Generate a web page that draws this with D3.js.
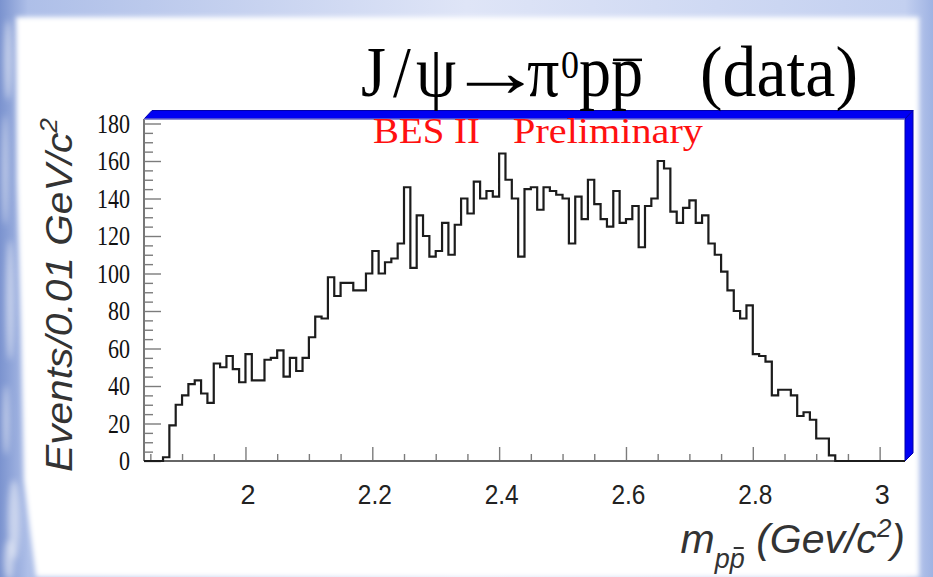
<!DOCTYPE html>
<html>
<head>
<meta charset="utf-8">
<script src="https://cdn.jsdelivr.net/npm/d3@7"></script>
<style>
  html, body { margin: 0; padding: 0; background: #fff; overflow: hidden; }
  svg { display: block; }
</style>
</head>
<body>
<svg id="chart" width="933" height="577"></svg>
<script>
// p-pbar invariant mass in J/psi -> pi0 p pbar, events per 0.01 GeV/c^2 bin
const firstBinLow = 1.87;
const binWidth = 0.01;
const counts = [
  2, 19, 30, 35, 41, 43, 36, 31, 52, 50,
  56, 49, 42, 57, 43, 43, 54, 55, 59, 45,
  55, 48, 55, 66, 77, 76, 98, 88, 95, 95,
  91, 91, 100, 112, 100, 106, 108, 116, 146, 103,
  131, 120, 109, 112, 127, 110, 126, 140, 132, 149,
  140, 144, 141, 164, 150, 140, 109, 145, 146, 134,
  146, 144, 142, 140, 116, 141, 129, 150, 137, 129,
  125, 144, 127, 129, 136, 114, 136, 140, 160, 156,
  133, 127, 135, 139, 127, 131, 116, 110, 101, 91,
  80, 76, 83, 57, 56, 53, 35, 38, 38, 35,
  24, 26, 22, 12, 12, 3
];
const xDomain = [1.84, 3.04];
const yDomain = [0, 182.4];
const xTicks = [2, 2.2, 2.4, 2.6, 2.8, 3];
const xTickLabels = ["2", "2.2", "2.4", "2.6", "2.8", "3"];
const yTicks = [0, 20, 40, 60, 80, 100, 120, 140, 160, 180];
const yTickLabels = ["0", "20", "40", "60", "80", "100", "120", "140", "160", "180"];

const W = 933, H = 577;
const frame = { left: 144, right: 905, top: 119, bottom: 461 };
const serif = "'Liberation Serif', 'Times New Roman', serif";
const sans = "'Liberation Sans', Arial, Helvetica, sans-serif";

const svg = d3.select("#chart");
const defs = svg.append("defs");

// ---------- slide background ----------
const bgGrad = defs.append("linearGradient").attr("id", "bgGrad")
  .attr("x1", 0).attr("y1", 0).attr("x2", 1).attr("y2", 0);
bgGrad.append("stop").attr("offset", "0%").attr("stop-color", "#7b93cf");
bgGrad.append("stop").attr("offset", "3%").attr("stop-color", "#aebfe8");
bgGrad.append("stop").attr("offset", "50%").attr("stop-color", "#dfe5f7");
bgGrad.append("stop").attr("offset", "97%").attr("stop-color", "#c3d0f0");
bgGrad.append("stop").attr("offset", "100%").attr("stop-color", "#9fb3e3");
svg.append("rect").attr("width", W).attr("height", H).attr("fill", "url(#bgGrad)");

const soft = defs.append("filter").attr("id", "soft").attr("x", "-10%").attr("y", "-10%")
  .attr("width", "120%").attr("height", "120%");
soft.append("feGaussianBlur").attr("stdDeviation", 2.5);
const haze = defs.append("filter").attr("id", "haze").attr("x", "-50%").attr("y", "-50%")
  .attr("width", "200%").attr("height", "200%");
haze.append("feGaussianBlur").attr("stdDeviation", 3);

// watery streaks on the left border
const streaks = [[8, 60, 4, 40], [5, 170, 3, 55], [10, 300, 4, 60], [6, 420, 3, 35], [14, 520, 6, 40], [9, 560, 5, 20]];
svg.append("g").attr("filter", "url(#haze)").selectAll("ellipse").data(streaks).join("ellipse")
  .attr("cx", d => d[0]).attr("cy", d => d[1]).attr("rx", d => d[2]).attr("ry", d => d[3])
  .attr("fill", "#ffffff").attr("opacity", 0.5);

// white slide area
svg.append("path")
  .attr("d", "M16,17 L919,17 L919,577 L36,577 L30,530 L24,480 L21,330 L17,180 Z")
  .attr("fill", "#ffffff").attr("filter", "url(#soft)");

// ---------- scales ----------
const x = d3.scaleLinear().domain(xDomain).range([frame.left, frame.right]);
const y = d3.scaleLinear().domain(yDomain).range([frame.bottom, frame.top]);

// ---------- 3D frame border (blue) ----------
const depth = 8;
svg.append("path")
  .attr("d", `M${frame.left},${frame.top} L${frame.left + depth},${frame.top - depth - 0.5} L${frame.right + depth},${frame.top - depth - 0.5} L${frame.right},${frame.top} Z`)
  .attr("fill", "#0000f2").attr("stroke", "#0000a8").attr("stroke-width", 1);
svg.append("path")
  .attr("d", `M${frame.right},${frame.top} L${frame.right + depth},${frame.top - depth - 0.5} L${frame.right + depth},${frame.bottom - depth} L${frame.right},${frame.bottom} Z`)
  .attr("fill", "#0000f2").attr("stroke", "#0000a8").attr("stroke-width", 1);

// ---------- axes ----------
const tickColor = "#7c7c7c";
function styleTicks(g) {
  g.select(".domain").remove();
  g.selectAll(".tick line").attr("stroke", tickColor).attr("stroke-width", 1.4);
}
// y minor / major ticks (drawn inside the frame)
const yMinor = d3.range(0, 181, 5).filter(v => v % 20 !== 0);
svg.append("g").attr("transform", `translate(${frame.left},0)`)
  .call(d3.axisLeft(y).tickValues(yMinor).tickSize(-9).tickFormat(""))
  .call(styleTicks);
const yAxis = svg.append("g").attr("transform", `translate(${frame.left},0)`)
  .call(d3.axisLeft(y).tickValues(yTicks).tickSize(-17).tickPadding(-3)
    .tickFormat((d, i) => yTickLabels[i]))
  .call(styleTicks);
yAxis.selectAll(".tick text")
  .attr("x", -14)
  .attr("fill", "#111").attr("font-family", serif).attr("font-size", 28)
  .attr("textLength", d => 11 * String(d).length).attr("lengthAdjust", "spacingAndGlyphs");

// x minor / major ticks
const xMinor = d3.range(1.85, 3.04, 0.05).filter(v => Math.abs(v * 5 - Math.round(v * 5)) > 1e-6);
svg.append("g").attr("transform", `translate(0,${frame.bottom})`)
  .call(d3.axisBottom(x).tickValues(xMinor).tickSize(-7).tickFormat(""))
  .call(styleTicks);
const xAxis = svg.append("g").attr("transform", `translate(0,${frame.bottom})`)
  .call(d3.axisBottom(x).tickValues(xTicks).tickSize(-14).tickPadding(0)
    .tickFormat((d, i) => xTickLabels[i]))
  .call(styleTicks);
xAxis.selectAll(".tick text")
  .attr("y", 23).attr("dx", 2)
  .attr("fill", "#222").attr("font-family", sans).attr("font-size", 28)
  .attr("textLength", d => (String(d).length > 1 ? 34 : 15)).attr("lengthAdjust", "spacingAndGlyphs");

// frame lines: left and bottom axes, top edge
svg.append("line").attr("x1", frame.left).attr("x2", frame.left).attr("y1", frame.top).attr("y2", frame.bottom)
  .attr("stroke", "#777").attr("stroke-width", 2);
svg.append("line").attr("x1", frame.left).attr("x2", frame.right).attr("y1", frame.bottom).attr("y2", frame.bottom)
  .attr("stroke", "#666").attr("stroke-width", 2);
svg.append("line").attr("x1", frame.left).attr("x2", frame.right).attr("y1", frame.top).attr("y2", frame.top)
  .attr("stroke", "#9a9ad8").attr("stroke-width", 1);

// ---------- histogram ----------
const bins = counts.map((c, i) => ({ lo: firstBinLow + i * binWidth, c }));
const lastHi = bins[bins.length - 1].lo + binWidth;
const pts = [[xDomain[0], 0]]
  .concat(bins.map(b => [b.lo, b.c]))
  .concat([[lastHi, 0], [xDomain[1], 0]]);
svg.append("path")
  .datum(pts)
  .attr("d", d3.line().x(d => x(d[0])).y(d => y(d[1])).curve(d3.curveStepAfter))
  .attr("fill", "none").attr("stroke", "#1c1c1c").attr("stroke-width", 2.2)
  .attr("stroke-linejoin", "miter");

// ---------- labels ----------
svg.append("text").attr("x", 373).attr("y", 143)
  .attr("fill", "#ff1010").attr("font-family", serif).attr("font-size", 35)
  .attr("textLength", 107).attr("lengthAdjust", "spacingAndGlyphs").text("BES II");
svg.append("text").attr("x", 513).attr("y", 143)
  .attr("fill", "#ff1010").attr("font-family", serif).attr("font-size", 35)
  .attr("textLength", 190).attr("lengthAdjust", "spacingAndGlyphs").text("Preliminary");

// title: J/psi -> pi0 p pbar (data), slightly tall lettering
const titleG = svg.append("g").attr("transform", "translate(0,96) scale(1,1.13) translate(0,-96)")
  .attr("fill", "#000").attr("font-family", serif).attr("font-size", 64);
const title = titleG.append("text").attr("y", 96);
title.append("tspan").attr("x", 361).text("J");
title.append("tspan").attr("x", 393).text("/");
title.append("tspan").attr("x", 416).text("\u03C8");
// long arrow: the glyph widened horizontally
titleG.append("text").attr("transform", "translate(447,96) scale(1.5,1)").text("\u2192");
const tail = titleG.append("text").attr("y", 96);
tail.append("tspan").attr("x", 527).text("\u03C0");
tail.append("tspan").attr("x", 561).attr("y", 80).attr("font-size", 36).text("0");
tail.append("tspan").attr("x", 579).attr("y", 96).text("p");
tail.append("tspan").attr("x", 611).text("p");
titleG.append("text").attr("x", 700).attr("y", 96)
  .attr("textLength", 158).attr("lengthAdjust", "spacingAndGlyphs").text("(data)");
{
  const ext = tail.node().getExtentOfChar(3);
  titleG.append("line")
    .attr("x1", ext.x + 2).attr("x2", ext.x + ext.width - 1)
    .attr("y1", 64).attr("y2", 64)
    .attr("stroke", "#000").attr("stroke-width", 2.2);
}

// y-axis title
const yTitle = svg.append("text")
  .attr("transform", "translate(72,295) rotate(-90)")
  .attr("text-anchor", "middle")
  .attr("fill", "#333").attr("font-family", sans).attr("font-style", "italic").attr("font-size", 37)
  .attr("textLength", 354).attr("lengthAdjust", "spacingAndGlyphs");
yTitle.append("tspan").text("Events/0.01 GeV/c");
yTitle.append("tspan").attr("font-size", 24).attr("dy", -15).text("2");

// x-axis title: m_{p pbar} (Gev/c^2)
const xTitle = svg.append("text")
  .attr("x", 905).attr("y", 553).attr("text-anchor", "end")
  .attr("fill", "#333").attr("font-family", sans).attr("font-style", "italic").attr("font-size", 41);
xTitle.append("tspan").text("m");
xTitle.append("tspan").attr("font-size", 27).attr("dy", 15).text("pp");
xTitle.append("tspan").attr("dy", -15).text(" (Gev/c");
xTitle.append("tspan").attr("font-size", 26).attr("dy", -16).text("2");
xTitle.append("tspan").attr("dy", 16).text(")");
{
  const ext = xTitle.node().getExtentOfChar(2);
  svg.append("line")
    .attr("x1", ext.x + 4).attr("x2", ext.x + ext.width - 1)
    .attr("y1", 548).attr("y2", 548)
    .attr("stroke", "#333").attr("stroke-width", 2);
}
</script>
</body>
</html>
